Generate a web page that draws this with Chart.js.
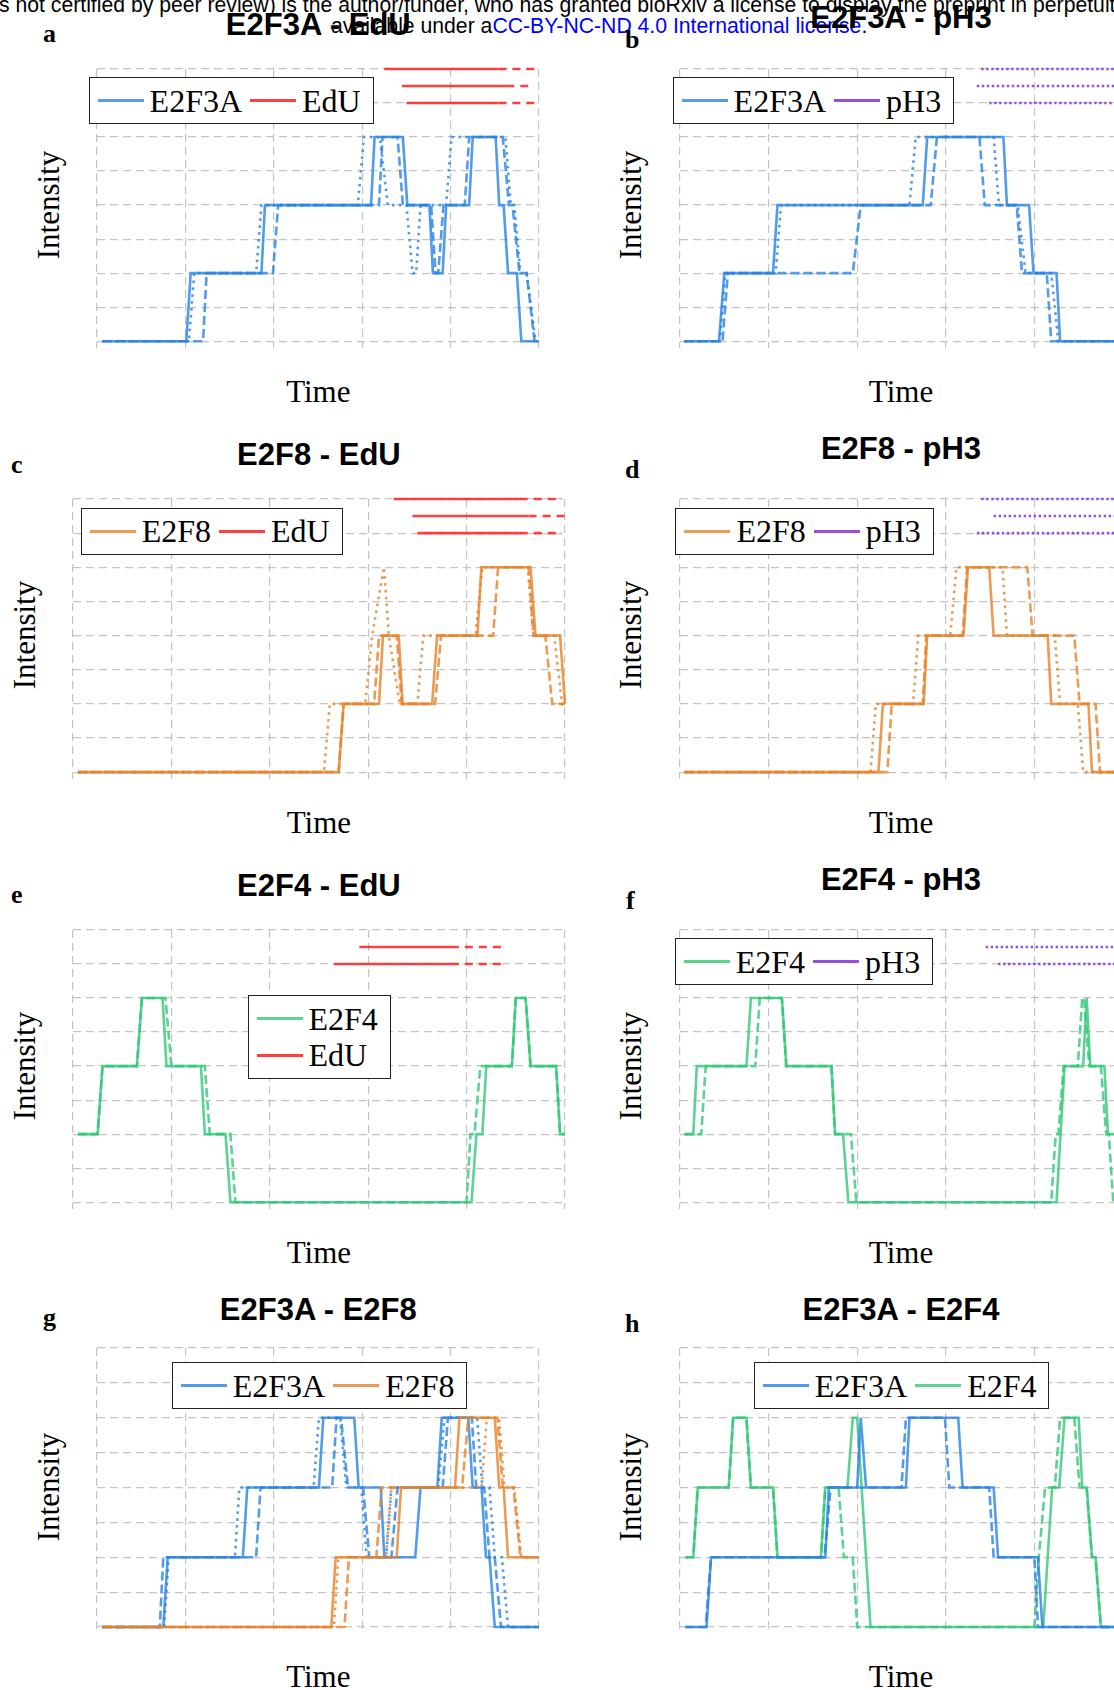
<!DOCTYPE html>
<html>
<head>
<meta charset="utf-8">
<script src="https://cdn.jsdelivr.net/npm/chart.js@4.4.1/dist/chart.umd.min.js"></script>
<style>
  html, body { margin: 0; padding: 0; background: #fff; }
  body { width: 1114px; height: 1690px; overflow: hidden; position: relative; }
  .abs { position: absolute; white-space: nowrap; line-height: 1; }
  .wm { font-family: 'Liberation Sans', Arial, sans-serif; font-size: 21.2px; color: #000; }
  .wm a { color: #0000ff; text-decoration: none; }
  .title { font-family: 'Liberation Sans', Arial, sans-serif; font-weight: bold; font-size: 31px; transform: translateX(-50%); z-index: 3; }
  .letter { font-family: 'Liberation Serif', 'Times New Roman', serif; font-weight: bold; font-size: 26px; }
  .lab { font-family: 'Liberation Serif', 'Times New Roman', serif; font-size: 31px; }
  .ylab { transform: translate(-50%, -50%) rotate(-90deg); }
  .xlab { transform: translateX(-50%); }
  .legend { position: absolute; display: flex; align-items: center; background: #fff; border: 1.5px solid #222;
            padding: 6.5px 12px 6.5px 8px; font-family: 'Liberation Serif', 'Times New Roman', serif;
            font-size: 32px; line-height: 32px; z-index: 2; }
  .legend .it { display: flex; align-items: center; margin-right: 8px; }
  .legend .it:last-child { margin-right: 0; }
  .legend i { display: inline-block; width: 46px; height: 2.7px; margin-right: 6px; }
  .legend.vert { flex-direction: column; align-items: flex-start; padding: 4px 12px 4px 8px; }
  .legend.vert .it { margin: 0; height: 36.7px; }
  canvas { position: absolute; z-index: 1; }
</style>
</head>
<body>
<div class="abs wm" style="left:-1px;top:-6px">s not certified by peer review) is the author/funder, who has granted bioRxiv a license to display the preprint in perpetuity. It is made</div>
<div class="abs wm" style="left:331px;top:14.8px">available under a<a>CC-BY-NC-ND 4.0 International license</a>.</div>
<script>
// grid positions (no tick labels are shown)
const xGrid = [0, 1, 2, 3, 4, 5];
const yGrid = [0, 1, 2, 3, 4, 5, 6, 7, 8];

// a: E2F3A - EdU
const aE2F3A_solid = [[0.06,0],[1.01,0],[1.06,2],[1.86,2],[1.90,4],[3.10,4],[3.14,6],[3.46,6],[3.51,4],[3.76,4],[3.80,2],[3.91,2],[3.95,4],[4.21,4],[4.25,6],[4.51,6],[4.55,4],[4.60,4],[4.65,2],[4.75,2],[4.80,0],[5.0,0]];
const aE2F3A_dashed = [[0.06,0],[1.20,0],[1.24,2],[1.99,2],[2.05,4],[3.19,4],[3.23,6],[3.40,6],[3.46,4],[3.78,4],[3.83,2],[3.86,2],[3.92,4],[4.16,4],[4.21,6],[4.59,6],[4.66,4],[4.70,4],[4.78,2],[4.86,2],[4.95,0],[5.0,0]];
const aE2F3A_dotted = [[0.06,0],[1.04,0],[1.10,2],[1.80,2],[1.86,4],[2.95,4],[3.02,6],[3.20,6],[3.29,4],[3.50,4],[3.57,2],[3.61,2],[3.66,4],[3.95,4],[4.01,6],[4.62,6],[4.68,4],[4.72,4],[4.79,2],[4.86,2],[4.96,0],[5.0,0]];
const aEdU_level = [8, 7.5, 7];
const aEdU_start = [3.25, 3.45, 3.50];
const aEdU_solidEnd = [4.54, 4.63, 4.54];
const aEdU_end = [5.0, 4.92, 5.0];

// b: E2F3A - pH3
const bE2F3A_solid = [[0.05,0],[0.44,0],[0.50,2],[1.05,2],[1.10,4],[2.74,4],[2.79,6],[3.65,6],[3.69,4],[3.94,4],[3.99,2],[4.25,2],[4.29,0],[5,0]];
const bE2F3A_dashed = [[0.05,0],[0.48,0],[0.54,2],[1.95,2],[2.04,4],[2.83,4],[2.90,6],[3.38,6],[3.44,4],[3.80,4],[3.86,2],[4.14,2],[4.19,0],[5,0]];
const bE2F3A_dotted = [[0.05,0],[0.45,0],[0.51,2],[1.08,2],[1.14,4],[2.59,4],[2.66,6],[3.54,6],[3.60,4],[3.81,4],[3.90,2],[4.19,2],[4.27,0],[5,0]];
const bPH3_level = [8, 7.5, 7];
const bPH3_start = [3.40, 3.35, 3.49];
const bPH3_end = [5, 5, 5];

// c: E2F8 - EdU
const cE2F8_solid = [[0.05,0],[2.70,0],[2.75,2],[3.11,2],[3.15,4],[3.31,4],[3.35,2],[3.65,2],[3.70,4],[4.11,4],[4.15,6],[4.65,6],[4.70,4],[4.95,4],[5.0,2]];
const cE2F8_dashed = [[0.05,0],[2.70,0],[2.75,2],[3.06,2],[3.11,4],[3.29,4],[3.34,2],[3.68,2],[3.74,4],[4.27,4],[4.32,6],[4.63,6],[4.68,4],[4.80,4],[4.87,2],[5.0,2]];
const cE2F8_dotted = [[0.05,0],[2.55,0],[2.61,2],[2.97,2],[3.04,4],[3.16,6],[3.21,4],[3.32,2],[3.50,2],[3.56,4],[4.09,4],[4.16,6],[4.62,6],[4.68,4],[4.89,4],[4.97,2],[5.0,2]];
const cEdU_level = [8, 7.5, 7];
const cEdU_start = [3.26, 3.45, 3.50];
const cEdU_solidEnd = [4.54, 4.63, 4.54];
const cEdU_end = [4.97, 5.0, 4.97];

// d: E2F8 - pH3
const dE2F8_solid = [[0.05,0],[2.24,0],[2.29,2],[2.75,2],[2.79,4],[3.20,4],[3.25,6],[3.49,6],[3.54,4],[4.15,4],[4.19,2],[4.61,2],[4.65,0],[5,0]];
const dE2F8_dashed = [[0.05,0],[2.34,0],[2.39,2],[2.74,2],[2.78,4],[3.19,4],[3.24,6],[3.92,6],[3.98,4],[4.45,4],[4.51,2],[4.69,2],[4.74,0],[5,0]];
const dE2F8_dotted = [[0.05,0],[2.15,0],[2.21,2],[2.63,2],[2.69,4],[3.05,4],[3.12,6],[3.64,6],[3.69,4],[4.23,4],[4.29,2],[4.49,2],[4.55,0],[5,0]];
const dPH3_level = [8, 7.5, 7];
const dPH3_start = [3.40, 3.54, 3.35];
const dPH3_end = [5, 5, 5];

// e: E2F4 - EdU
const eE2F4_solid = [[0.05,2],[0.25,2],[0.30,4],[0.65,4],[0.70,6],[0.91,6],[0.95,4],[1.30,4],[1.34,2],[1.55,2],[1.60,0],[4.05,0],[4.10,2],[4.16,2],[4.20,4],[4.46,4],[4.50,6],[4.60,6],[4.65,4],[4.91,4],[4.95,2],[5.0,2]];
const eE2F4_dashed = [[0.05,2],[0.25,2],[0.30,4],[0.65,4],[0.70,6],[0.94,6],[1.00,4],[1.34,4],[1.39,2],[1.60,2],[1.65,0],[4.00,0],[4.04,2],[4.08,2],[4.14,4],[4.46,4],[4.50,6],[4.60,6],[4.65,4],[4.91,4],[4.95,2],[5.0,2]];
const eEdU_level = [7.5, 7];
const eEdU_start = [2.91, 2.65];
const eEdU_solidEnd = [3.84, 3.84];
const eEdU_end = [4.41, 4.41];

// f: E2F4 - pH3
const fE2F4_solid = [[0.05,2],[0.15,2],[0.19,4],[0.75,4],[0.80,6],[1.15,6],[1.20,4],[1.71,4],[1.75,2],[1.84,2],[1.90,0],[4.25,0],[4.34,4],[4.55,4],[4.59,6],[4.63,4],[4.79,4],[4.83,2],[5.0,2]];
const fE2F4_dashed = [[0.05,2],[0.24,2],[0.29,4],[0.85,4],[0.90,6],[1.15,6],[1.20,4],[1.71,4],[1.75,2],[1.93,2],[1.99,0],[4.19,0],[4.24,2],[4.27,2],[4.33,4],[4.49,4],[4.54,6],[4.56,6],[4.62,4],[4.75,4],[4.81,2],[4.84,2],[4.89,0],[5.0,0]];
const fPH3_level = [7.5, 7];
const fPH3_start = [3.45, 3.59];
const fPH3_end = [5, 5];

// g: E2F3A - E2F8
const gE2F3A_solid = [[0.06,0],[0.75,0],[0.80,2],[1.65,2],[1.70,4],[2.51,4],[2.56,6],[2.91,6],[2.96,4],[3.21,4],[3.25,2],[3.60,2],[3.66,4],[3.85,4],[3.90,6],[4.20,6],[4.25,4],[4.35,4],[4.40,2],[4.44,2],[4.50,0],[5,0]];
const gE2F3A_dashed = [[0.06,0],[0.71,0],[0.75,2],[1.80,2],[1.85,4],[2.66,4],[2.71,6],[2.76,6],[2.84,4],[3.01,4],[3.08,2],[3.33,2],[3.40,4],[3.91,4],[3.97,6],[4.24,6],[4.29,4],[4.38,4],[4.44,2],[4.50,2],[4.57,0],[5,0]];
const gE2F3A_dotted = [[0.06,0],[0.76,0],[0.81,2],[1.56,2],[1.61,4],[2.45,4],[2.51,6],[2.75,6],[2.82,4],[2.99,4],[3.05,2],[3.27,2],[3.33,4],[3.86,4],[3.93,6],[4.30,6],[4.36,4],[4.44,4],[4.50,2],[4.58,2],[4.65,0],[5,0]];
const gE2F8_solid = [[0.06,0],[2.65,0],[2.70,2],[3.39,2],[3.44,4],[4.05,4],[4.10,6],[4.50,6],[4.55,4],[4.60,4],[4.65,2],[5,2]];
const gE2F8_dashed = [[0.06,0],[2.80,0],[2.85,2],[3.16,2],[3.22,4],[4.13,4],[4.20,6],[4.53,6],[4.59,4],[4.71,4],[4.79,2],[5,2]];
const gE2F8_dotted = [[0.06,0],[2.68,0],[2.73,2],[3.27,2],[3.33,4],[4.35,4],[4.41,6],[4.55,6],[4.61,4],[4.72,4],[4.80,2],[5,2]];

// h: E2F3A - E2F4
const hE2F3A_solid = [[0.06,0],[0.30,0],[0.35,2],[1.64,2],[1.68,4],[2.00,4],[2.04,6],[2.10,4],[2.55,4],[2.59,6],[3.14,6],[3.19,4],[3.54,4],[3.59,2],[4.04,2],[4.09,0],[5,0]];
const hE2F3A_dashed = [[0.06,0],[0.29,0],[0.35,2],[1.63,2],[1.70,4],[2.50,4],[2.55,6],[2.99,6],[3.04,4],[3.49,4],[3.54,2],[4.00,2],[4.04,0],[5,0]];
const hE2F4_solid = [[0.06,2],[0.15,2],[0.20,4],[0.55,4],[0.60,6],[0.75,6],[0.80,4],[1.05,4],[1.10,2],[1.59,2],[1.64,4],[1.89,4],[1.95,6],[2.00,6],[2.15,0],[4.10,0],[4.15,2],[4.20,4],[4.28,4],[4.34,6],[4.50,6],[4.54,4],[4.59,4],[4.65,2],[4.69,2],[4.75,0],[5,0]];
const hE2F4_dashed = [[0.06,2],[0.15,2],[0.20,4],[0.55,4],[0.60,6],[0.75,6],[0.80,4],[1.05,4],[1.10,2],[1.59,2],[1.64,4],[1.79,4],[1.85,2],[1.95,2],[2.00,0],[4.00,0],[4.05,2],[4.12,4],[4.23,4],[4.29,6],[4.45,6],[4.51,4],[4.59,4],[4.65,2],[4.69,2],[4.75,0],[5,0]];

const BLUE = 'rgba(40,130,230,0.8)';
const ORANGE = 'rgba(230,130,40,0.8)';
const GREEN = 'rgba(50,200,120,0.8)';
const RED = 'rgba(255,30,30,0.85)';
const PURPLE = 'rgba(140,60,220,0.9)';
const SOLID = [];
const DASHED = [9, 4];
const DOTTED = [2.6, 4.3];
const PH3_DOT = [2.4, 2.6];
const GRID_COLOR = 'rgba(190,190,190,0.9)';
const GRID_DASH = [8, 5];
const Y_MIN = -0.2;

function trace(pts, color, dash) {
  return {
    data: pts.map(([x, y]) => ({ x, y })),
    borderColor: color, borderWidth: 2.6, borderDash: dash,
    pointRadius: 0, fill: false, tension: 0, borderCapStyle: 'butt', clip: 6,
  };
}

// horizontal marker bars: solid part then a dashed tail
function bars(level, start, solidEnd, end, color, headDash, tailDash, width) {
  return level.map((y, i) => ({
    data: [{ x: start[i], y }, { x: solidEnd[i], y }, { x: end[i], y }],
    borderColor: color, borderWidth: width, borderDash: headDash,
    pointRadius: 0, fill: false, tension: 0, borderCapStyle: 'butt', clip: 6,
    segment: { borderDash: ctx => (ctx.p0DataIndex === 1 ? tailDash : undefined) },
  }));
}

function addText(cls, text, left, top) {
  const d = document.createElement('div');
  d.className = 'abs ' + cls;
  d.style.left = left + 'px';
  d.style.top = top + 'px';
  d.textContent = text;
  document.body.appendChild(d);
}

function addLegend(items, left, top, vertical) {
  const box = document.createElement('div');
  box.className = 'legend' + (vertical ? ' vert' : '');
  box.style.left = left + 'px';
  box.style.top = top + 'px';
  box.innerHTML = items.map(it => `<span class="it"><i style="background:${it[1]}"></i>${it[0]}</span>`).join('');
  document.body.appendChild(box);
}

function makePanel(p) {
  const P = 6;
  const unit = (p.yZero - p.yTop) / 8;
  const bottom = p.yZero - Y_MIN * unit;
  const w = Math.round(p.x1 - p.x0) + 2 * P;
  const h = Math.round(bottom - p.yTop) + 2 * P;
  const canvas = document.createElement('canvas');
  canvas.width = w; canvas.height = h;
  canvas.style.left = Math.round(p.x0 - P) + 'px';
  canvas.style.top = Math.round(p.yTop - P) + 'px';
  canvas.style.width = w + 'px';
  canvas.style.height = h + 'px';
  document.body.appendChild(canvas);

  const grid = { color: GRID_COLOR, lineWidth: 1.2, drawTicks: false };
  new Chart(canvas, {
    type: 'line',
    data: { datasets: p.datasets },
    options: {
      responsive: false, animation: false, devicePixelRatio: 1,
      layout: { padding: P },
      plugins: { legend: { display: false }, tooltip: { enabled: false } },
      scales: {
        x: {
          type: 'linear', min: 0, max: 5, grid, border: { display: false, dash: GRID_DASH },
          ticks: { display: false },
          afterBuildTicks: s => { s.ticks = xGrid.map(v => ({ value: v })); },
        },
        y: {
          type: 'linear', min: Y_MIN, max: 8, grid, border: { display: false, dash: GRID_DASH },
          ticks: { display: false },
          afterBuildTicks: s => { s.ticks = yGrid.map(v => ({ value: v })); },
        },
      },
    },
  });

  const cx = (p.x0 + p.x1) / 2;
  addText('title', p.title, cx, p.titleTop);
  addText('letter', p.letter, p.letterX, p.letterTop);
  addText('lab ylab', 'Intensity', p.ylabX, (p.yTop + bottom) / 2 - 4);
  addText('lab xlab', 'Time', cx, p.timeTop);
  addLegend(p.legend, p.legX, p.legY, p.legVert);
}

const L1 = { x0: 97.3, x1: 539.3 };   // a, g
const L2 = { x0: 73.2, x1: 564.7 };   // c, e
const R = { x0: 679.7, x1: 1122.3 };  // b, d, f, h

const panels = [
  { ...L1, yTop: 69, yZero: 341.3, title: 'E2F3A - EdU', titleTop: 8.8, letter: 'a', letterX: 43, letterTop: 21.2,
    ylabX: 47.5, timeTop: 375.7, legend: [['E2F3A', BLUE], ['EdU', RED]], legX: 88.6, legY: 77.3,
    datasets: [
      trace(aE2F3A_dotted, BLUE, DOTTED), trace(aE2F3A_dashed, BLUE, DASHED), trace(aE2F3A_solid, BLUE, SOLID),
      ...bars(aEdU_level, aEdU_start, aEdU_solidEnd, aEdU_end, RED, SOLID, [8, 6], 2.6),
    ] },
  { ...R, yTop: 69, yZero: 341.3, title: 'E2F3A - pH3', titleTop: 2.1, letter: 'b', letterX: 625, letterTop: 26.5,
    ylabX: 630, timeTop: 375.7, legend: [['E2F3A', BLUE], ['pH3', PURPLE]], legX: 672.6, legY: 77.3,
    datasets: [
      trace(bE2F3A_dotted, BLUE, DOTTED), trace(bE2F3A_dashed, BLUE, DASHED), trace(bE2F3A_solid, BLUE, SOLID),
      ...bars(bPH3_level, bPH3_start, bPH3_end, bPH3_end, PURPLE, PH3_DOT, PH3_DOT, 2.6),
    ] },
  { ...L2, yTop: 499.3, yZero: 772, title: 'E2F8 - EdU', titleTop: 438.8, letter: 'c', letterX: 11, letterTop: 451.5,
    ylabX: 24, timeTop: 807.3, legend: [['E2F8', ORANGE], ['EdU', RED]], legX: 80.7, legY: 507.7,
    datasets: [
      trace(cE2F8_dotted, ORANGE, DOTTED), trace(cE2F8_dashed, ORANGE, DASHED), trace(cE2F8_solid, ORANGE, SOLID),
      ...bars(cEdU_level, cEdU_start, cEdU_solidEnd, cEdU_end, RED, SOLID, [8, 6], 2.6),
    ] },
  { ...R, yTop: 499.3, yZero: 772, title: 'E2F8 - pH3', titleTop: 433.1, letter: 'd', letterX: 625, letterTop: 456.5,
    ylabX: 630, timeTop: 807.3, legend: [['E2F8', ORANGE], ['pH3', PURPLE]], legX: 675.4, legY: 507.7,
    datasets: [
      trace(dE2F8_dotted, ORANGE, DOTTED), trace(dE2F8_dashed, ORANGE, DASHED), trace(dE2F8_solid, ORANGE, SOLID),
      ...bars(dPH3_level, dPH3_start, dPH3_end, dPH3_end, PURPLE, PH3_DOT, PH3_DOT, 2.6),
    ] },
  { ...L2, yTop: 930, yZero: 1202.3, title: 'E2F4 - EdU', titleTop: 869.8, letter: 'e', letterX: 11, letterTop: 881.5,
    ylabX: 24, timeTop: 1237.3, legend: [['E2F4', GREEN], ['EdU', RED]], legX: 247.5, legY: 995.3, legVert: true,
    datasets: [
      trace(eE2F4_dashed, GREEN, DASHED), trace(eE2F4_solid, GREEN, SOLID),
      ...bars(eEdU_level, eEdU_start, eEdU_solidEnd, eEdU_end, RED, SOLID, [8, 6], 2.6),
    ] },
  { ...R, yTop: 930, yZero: 1202.3, title: 'E2F4 - pH3', titleTop: 863.8, letter: 'f', letterX: 626, letterTop: 887.5,
    ylabX: 630, timeTop: 1237.3, legend: [['E2F4', GREEN], ['pH3', PURPLE]], legX: 674.7, legY: 938.3,
    datasets: [
      trace(fE2F4_dashed, GREEN, DASHED), trace(fE2F4_solid, GREEN, SOLID),
      ...bars(fPH3_level, fPH3_start, fPH3_end, fPH3_end, PURPLE, PH3_DOT, PH3_DOT, 2.6),
    ] },
  { ...L1, yTop: 1347.8, yZero: 1626.7, title: 'E2F3A - E2F8', titleTop: 1293.8, letter: 'g', letterX: 43, letterTop: 1305.2,
    ylabX: 47.5, timeTop: 1660.7, legend: [['E2F3A', BLUE], ['E2F8', ORANGE]], legX: 171.7, legY: 1362.3,
    datasets: [
      trace(gE2F8_dotted, ORANGE, DOTTED), trace(gE2F8_dashed, ORANGE, DASHED), trace(gE2F8_solid, ORANGE, SOLID),
      trace(gE2F3A_dotted, BLUE, DOTTED), trace(gE2F3A_dashed, BLUE, DASHED), trace(gE2F3A_solid, BLUE, SOLID),
    ] },
  { ...R, yTop: 1347.8, yZero: 1626.7, title: 'E2F3A - E2F4', titleTop: 1293.8, letter: 'h', letterX: 625, letterTop: 1311.2,
    ylabX: 630, timeTop: 1660.7, legend: [['E2F3A', BLUE], ['E2F4', GREEN]], legX: 753.7, legY: 1362.3,
    datasets: [
      trace(hE2F3A_dashed, BLUE, DASHED), trace(hE2F3A_solid, BLUE, SOLID),
      trace(hE2F4_dashed, GREEN, DASHED), trace(hE2F4_solid, GREEN, SOLID),
    ] },
];

panels.forEach(makePanel);
</script>
</body>
</html>
